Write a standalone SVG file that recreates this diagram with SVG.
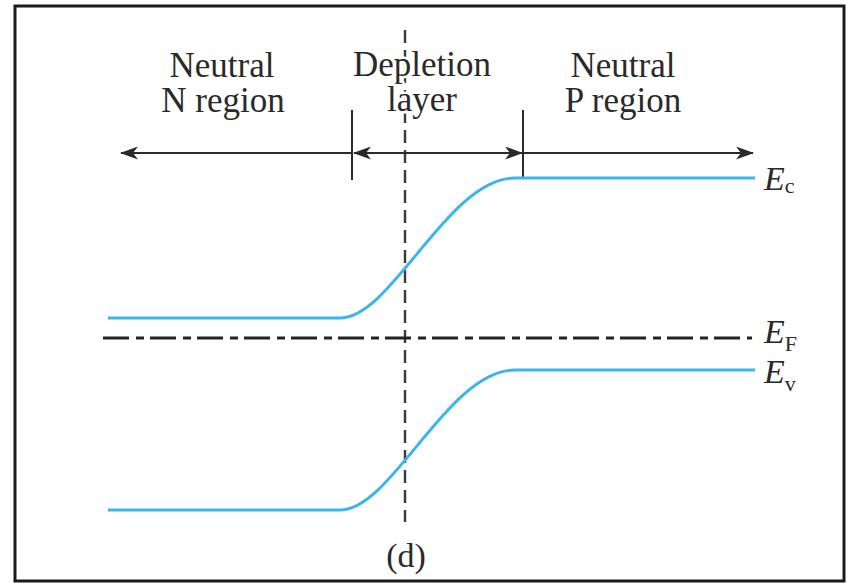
<svg xmlns="http://www.w3.org/2000/svg" width="850" height="583" viewBox="0 0 850 583">
<defs>
<style>
.lbl{font-family:"Liberation Serif","Times New Roman",serif;font-size:35px;fill:#2a2a2a;text-anchor:middle}
.halo{stroke:#fff;stroke-width:5;paint-order:stroke}
.e{font-family:"Liberation Serif","Times New Roman",serif;font-size:34px;fill:#2a2a2a}
.sub{font-style:normal;font-size:22px}
.band{fill:none;stroke:#3db5ea;stroke-width:3}
.dim{fill:none;stroke:#2a2a2a;stroke-width:2}
</style>
<marker id="ah" viewBox="0 0 18 13" refX="17" refY="6.5" markerWidth="18" markerHeight="13" markerUnits="userSpaceOnUse" orient="auto-start-reverse">
<path d="M0,0 L18,6.5 L0,13 L5,6.5 Z" fill="#2a2a2a"/>
</marker>
</defs>
<rect x="15" y="6" width="829" height="575" fill="#fff" stroke="#1a1a1a" stroke-width="3"/>
<g id="dashed-center">
<line x1="405" y1="30" x2="405" y2="522" stroke="#3a3a3a" stroke-width="2.4" stroke-dasharray="13 7"/>
</g>
<g id="labels">
<text class="lbl" id="n-region"><tspan x="222" y="77">Neutral</tspan><tspan x="223" y="112">N region</tspan></text>
<text class="lbl halo" id="depletion"><tspan x="422" y="76">Depletion</tspan><tspan x="422" y="111">layer</tspan></text>
<text class="lbl" id="p-region"><tspan x="623" y="77">Neutral</tspan><tspan x="623" y="112">P region</tspan></text>
<text class="lbl" x="406" y="567" style="font-size:34px">(d)</text>
</g>
<g id="connectors">
<line class="dim" x1="352" y1="110" x2="352" y2="180"/>
<line class="dim" x1="523" y1="110" x2="523" y2="178"/>
<line class="dim" x1="352" y1="153" x2="121" y2="153" marker-end="url(#ah)"/>
<line class="dim" x1="354" y1="153" x2="522" y2="153" marker-start="url(#ah)" marker-end="url(#ah)"/>
<line class="dim" x1="523" y1="153" x2="753" y2="153" marker-end="url(#ah)"/>
</g>
<g id="Ec">
<path class="band" d="M108,318 L340,318 C392,318 448,178 515,178 L755,178"/>
<text class="e" x="764" y="190"><tspan font-style="italic">E</tspan><tspan class="sub" dy="3">c</tspan></text>
</g>
<g id="EF">
<line x1="103" y1="338" x2="752" y2="338" stroke="#222" stroke-width="3.2" stroke-dasharray="26 7 8 6"/>
<text class="e" x="764" y="343"><tspan font-style="italic">E</tspan><tspan class="sub" dy="8">F</tspan></text>
</g>
<g id="Ev">
<path class="band" d="M108,510 L340,510 C392,510 448,370 515,370 L755,370"/>
<text class="e" x="764" y="383"><tspan font-style="italic">E</tspan><tspan class="sub" dy="8">v</tspan></text>
</g>
</svg>
